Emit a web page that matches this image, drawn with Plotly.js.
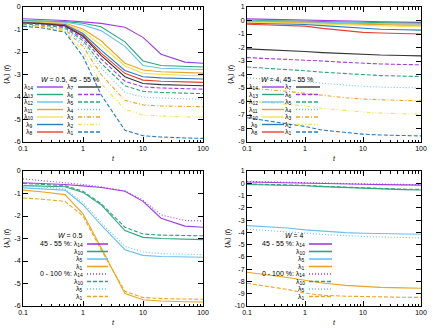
<!DOCTYPE html>
<html>
<head>
<meta charset="utf-8">
<script src="https://cdn.plot.ly/plotly-3.0.1.min.js"></script>
<style>
  html, body { margin: 0; padding: 0; background: #fff; }
  #chart { width: 436px; height: 328px; }
</style>
</head>
<body>
<div id="chart"></div>
<script>
// time points (log axis)
const t = [0.1, 0.2, 0.5, 1, 2, 5, 10, 20, 50, 100];

// top left: W = 0.5, 45 - 55 %
const w05 = {
  14: [-0.52, -0.55, -0.6, -0.66, -0.73, -0.9, -1.35, -2.1, -2.45, -2.5],
  13: [-0.6, -0.62, -0.65, -0.72, -0.88, -1.55, -2.4, -2.6, -2.65, -2.67],
  12: [-0.63, -0.65, -0.68, -0.8, -1.05, -1.75, -2.6, -2.72, -2.76, -2.78],
  11: [-0.65, -0.67, -0.72, -0.98, -1.5, -2.5, -2.8, -2.88, -2.92, -2.94],
  10: [-0.67, -0.69, -0.75, -1.08, -1.7, -2.62, -2.95, -3.0, -3.04, -3.05],
  9:  [-0.68, -0.71, -0.78, -1.18, -1.92, -2.82, -3.1, -3.15, -3.18, -3.2],
  8:  [-0.7, -0.73, -0.81, -1.25, -2.05, -2.95, -3.25, -3.3, -3.33, -3.35],
  7:  [-0.71, -0.74, -0.84, -1.3, -2.15, -3.1, -3.4, -3.45, -3.48, -3.5],
  6:  [-0.73, -0.77, -0.88, -1.4, -2.3, -3.3, -3.55, -3.6, -3.63, -3.65],
  5:  [-0.76, -0.8, -0.92, -1.5, -2.5, -3.5, -3.75, -3.8, -3.83, -3.85],
  4:  [-0.78, -0.82, -0.96, -1.62, -2.7, -3.8, -4.0, -4.05, -4.08, -4.1],
  3:  [-0.8, -0.85, -1.0, -1.75, -3.0, -4.15, -4.35, -4.4, -4.42, -4.43],
  2:  [-0.83, -0.88, -1.08, -1.98, -3.4, -4.55, -4.8, -4.85, -4.88, -4.9],
  1:  [-0.86, -0.92, -1.12, -2.2, -3.9, -5.48, -5.72, -5.78, -5.82, -5.84]
};

// top right: W = 4, 45 - 55 %
const w4 = {
  14: [0.12, 0.1, 0.08, 0.05, 0.02, -0.03, -0.06, -0.09, -0.12, -0.14],
  13: [0.02, 0.01, -0.01, -0.04, -0.07, -0.11, -0.14, -0.17, -0.19, -0.2],
  12: [-0.03, -0.05, -0.07, -0.1, -0.14, -0.18, -0.21, -0.24, -0.26, -0.27],
  11: [-0.08, -0.1, -0.12, -0.16, -0.2, -0.25, -0.29, -0.32, -0.34, -0.35],
  10: [-0.13, -0.15, -0.17, -0.22, -0.27, -0.33, -0.38, -0.42, -0.44, -0.45],
  9:  [-0.2, -0.22, -0.25, -0.3, -0.38, -0.5, -0.6, -0.65, -0.69, -0.71],
  8:  [-0.28, -0.31, -0.35, -0.42, -0.58, -0.78, -0.88, -0.93, -0.97, -1.0],
  7:  [-2.1, -2.15, -2.22, -2.3, -2.38, -2.46, -2.52, -2.56, -2.59, -2.62],
  6:  [-2.75, -2.8, -2.86, -2.92, -3.0, -3.1, -3.17, -3.22, -3.26, -3.28],
  5:  [-3.45, -3.52, -3.62, -3.72, -3.83, -3.95, -4.03, -4.08, -4.12, -4.15],
  4:  [-4.25, -4.32, -4.42, -4.52, -4.65, -4.8, -4.88, -4.93, -4.97, -5.0],
  3:  [-5.0, -5.1, -5.25, -5.4, -5.55, -5.72, -5.82, -5.88, -5.93, -5.95],
  2:  [-5.95, -6.05, -6.2, -6.33, -6.5, -6.68, -6.78, -6.86, -6.92, -6.95],
  1:  [-7.2, -7.38, -7.62, -7.85, -8.12, -8.32, -8.42, -8.48, -8.52, -8.55]
};

// bottom left: W = 0.5, 45 - 55 % (mid) vs 0 - 100 % (all)
const w05mid = {
  14: [-0.52, -0.55, -0.6, -0.66, -0.73, -0.9, -1.35, -2.1, -2.45, -2.5],
  10: [-0.65, -0.66, -0.7, -0.95, -1.5, -2.65, -2.95, -3.0, -3.04, -3.05],
  5:  [-0.75, -0.78, -0.85, -1.5, -2.4, -3.5, -3.75, -3.8, -3.82, -3.83],
  1:  [-0.85, -0.92, -1.05, -1.9, -3.4, -5.45, -5.72, -5.78, -5.81, -5.82]
};
const w05all = {
  14: [-0.35, -0.42, -0.5, -0.6, -0.7, -0.88, -1.3, -1.95, -2.2, -2.22],
  10: [-0.55, -0.58, -0.65, -0.9, -1.45, -2.5, -2.8, -2.85, -2.87, -2.88],
  5:  [-0.65, -0.7, -0.8, -1.4, -2.3, -3.35, -3.6, -3.67, -3.7, -3.72],
  1:  [-1.2, -1.25, -1.35, -2.0, -3.5, -5.35, -5.62, -5.67, -5.69, -5.7]
};

// bottom right: W = 4
const w4mid = {
  14: [0.1, 0.08, 0.06, 0.03, 0.0, -0.05, -0.08, -0.11, -0.13, -0.15],
  10: [-0.1, -0.12, -0.15, -0.2, -0.27, -0.35, -0.42, -0.47, -0.52, -0.55],
  5:  [-3.45, -3.52, -3.65, -3.8, -3.92, -4.02, -4.07, -4.1, -4.13, -4.15],
  1:  [-7.25, -7.42, -7.68, -7.9, -8.12, -8.32, -8.42, -8.48, -8.52, -8.55]
};
const w4all = {
  14: [0.15, 0.13, 0.1, 0.07, 0.03, -0.02, -0.05, -0.08, -0.1, -0.11],
  10: [-0.05, -0.08, -0.12, -0.17, -0.25, -0.33, -0.4, -0.45, -0.48, -0.5],
  5:  [-3.75, -3.83, -3.95, -4.05, -4.17, -4.28, -4.33, -4.38, -4.42, -4.45],
  1:  [-8.15, -8.35, -8.65, -8.95, -9.12, -9.2, -9.24, -9.27, -9.29, -9.3]
};

const C = {
  purple: '#a13ede', green: '#2ea57f', lblue: '#6cc0ec', orange: '#eba522',
  yellow: '#efe35a', blue: '#2b7dbd', red: '#e8412f', black: '#333333'
};
// gnuplot-like fine dash patterns
const D = {
  solid: 'solid', dash: '4px,2px', dot: '1px,2px',
  dashdot: '4px,2px,1px,2px', dashdotdot: '4px,2px,1px,2px,1px,2px'
};

// style per eigenvalue index in the top panels
const topStyle = {
  14: [C.purple, D.solid], 13: [C.green, D.solid], 12: [C.lblue, D.solid],
  11: [C.orange, D.solid], 10: [C.yellow, D.solid], 9: [C.blue, D.solid],
  8: [C.red, D.solid], 7: [C.black, D.solid], 6: [C.purple, D.dash],
  5: [C.green, D.dash], 4: [C.lblue, D.dot], 3: [C.orange, D.dashdot],
  2: [C.yellow, D.dashdotdot], 1: [C.blue, D.dash]
};
const botStyle = {
  14: [C.purple, D.dot], 10: [C.green, D.dash], 5: [C.lblue, D.dot], 1: [C.orange, D.dash]
};
const botColor = {14: C.purple, 10: C.green, 5: C.lblue, 1: C.orange};

const W = 436, H = 328;
const px = x => x / W;
const py = y => 1 - y / H;

const traces = [];
function addLine(ax, y, color, dash) {
  traces.push({
    x: t, y: y, type: 'scatter', mode: 'lines', showlegend: false, hoverinfo: 'skip',
    xaxis: 'x' + ax, yaxis: 'y' + ax,
    line: {color: color, dash: dash, width: 1.1}
  });
}

const topOrder = [14, 13, 12, 11, 10, 9, 8, 7, 6, 5, 4, 3, 2, 1];
topOrder.forEach(k => addLine('', w05[k], topStyle[k][0], topStyle[k][1]));
topOrder.forEach(k => addLine('2', w4[k], topStyle[k][0], topStyle[k][1]));
const botOrder = [14, 10, 5, 1];
botOrder.forEach(k => addLine('3', w05mid[k], botColor[k], 'solid'));
botOrder.forEach(k => addLine('3', w05all[k], botStyle[k][0], botStyle[k][1]));
botOrder.forEach(k => addLine('4', w4mid[k], botColor[k], 'solid'));
botOrder.forEach(k => addLine('4', w4all[k], botStyle[k][0], botStyle[k][1]));

// axes
const font = {family: 'Liberation Sans, Arial, sans-serif', size: 7, color: '#000'};
const minorVals = [];
[0.1, 1, 10].forEach(d => { for (let m = 2; m <= 9; m++) minorVals.push(+(m * d).toPrecision(2)); });

function xAxis(x0, x1, anchor) {
  return {
    type: 'log', range: [-1, 2], domain: [px(x0), px(x1)], anchor: anchor,
    tickvals: [0.1, 1, 10, 100], ticktext: ['0.1', '1', '10', '100'],
    ticks: 'inside', ticklen: 5, tickwidth: 1, tickcolor: '#000',
    minor: {tickvals: minorVals, ticks: 'inside', ticklen: 2.5, tickcolor: '#000', tickwidth: 1},
    showline: true, linecolor: '#000', linewidth: 1, mirror: 'allticks',
    showgrid: false, zeroline: false, tickfont: font,
    title: {text: '<i>t</i>', font: font, standoff: 4}
  };
}
function yAxis(y0, y1, lo, hi, anchor) {
  const vals = [];
  for (let v = hi; v >= lo; v--) vals.push(v);
  return {
    range: [lo, hi], domain: [py(y1), py(y0)], anchor: anchor,
    tickvals: vals, ticktext: vals.map(v => String(v)),
    ticks: 'inside', ticklen: 5, tickwidth: 1, tickcolor: '#000',
    showline: true, linecolor: '#000', linewidth: 1, mirror: 'allticks',
    showgrid: false, zeroline: false, tickfont: font,
    title: {text: '⟨λ<sub>i</sub>⟩ (<i>t</i>)', font: font, standoff: 3}
  };
}

const layout = {
  width: W, height: H, margin: {l: 0, r: 0, t: 0, b: 0},
  paper_bgcolor: '#fff', plot_bgcolor: '#fff', font: font, showlegend: false,
  xaxis: xAxis(23, 203, 'y'), yaxis: yAxis(7, 142, -6, 0, 'x'),
  xaxis2: xAxis(247, 421, 'y2'), yaxis2: yAxis(7, 142, -9, 1, 'x2'),
  xaxis3: xAxis(23, 203, 'y3'), yaxis3: yAxis(171, 306, -6, 0, 'x3'),
  xaxis4: xAxis(247, 421, 'y4'), yaxis4: yAxis(171, 306, -10, 1, 'x4'),
  shapes: [], annotations: []
};

// hand-made gnuplot style keys (text left of the sample)
function keyText(x, y, text, anchor) {
  layout.annotations.push({
    xref: 'paper', yref: 'paper', x: px(x), y: py(y), text: text, showarrow: false,
    xanchor: anchor || 'right', yanchor: 'middle', font: font
  });
}
function keySample(x0, x1, y, color, dash, width) {
  layout.shapes.push({
    type: 'line', xref: 'paper', yref: 'paper', x0: px(x0), x1: px(x1), y0: py(y), y1: py(y),
    line: {color: color, dash: dash, width: width || 1.4}
  });
}
const lam = k => 'λ<sub>' + k + '</sub>';
const rowsTop = [87, 94.5, 102, 109.5, 117, 124.5, 132];

function topKey(title, cx, c1, c2) {
  keyText(cx, 79, title, 'center');
  topOrder.forEach((k, i) => {
    const col = i < 7 ? c1 : c2;
    const y = rowsTop[i % 7];
    keyText(col[0], y, lam(k));
    keySample(col[1], col[2], y, topStyle[k][0], topStyle[k][1]);
  });
}
topKey('<i>W</i> = 0.5, 45 - 55 %', 70, [35, 37, 63], [76, 78, 101]);
topKey('<i>W</i> = 4, 45 - 55 %', 287, [260, 262, 284], [294, 296, 320]);

function botKey(title, lx, s0, s1) {
  keyText(lx - 1, 235, title);
  const rows = [244, 251.5, 259, 266.5, 274, 281.5, 289, 296.5];
  botOrder.forEach((k, i) => {
    keyText(lx, rows[i], (i === 0 ? '45 - 55 %: ' : '') + lam(k));
    keySample(s0, s1, rows[i], botColor[k], 'solid', 1.6);
  });
  botOrder.forEach((k, i) => {
    keyText(lx, rows[i + 4], (i === 0 ? '0 - 100 %: ' : '') + lam(k));
    keySample(s0, s1, rows[i + 4], botStyle[k][0], botStyle[k][1], 1.6);
  });
}
botKey('<i>W</i> = 0.5', 85, 87, 108);
botKey('<i>W</i> = 4', 307, 309, 332);

Plotly.newPlot('chart', traces, layout, {staticPlot: true, displayModeBar: false});
</script>
</body>
</html>
